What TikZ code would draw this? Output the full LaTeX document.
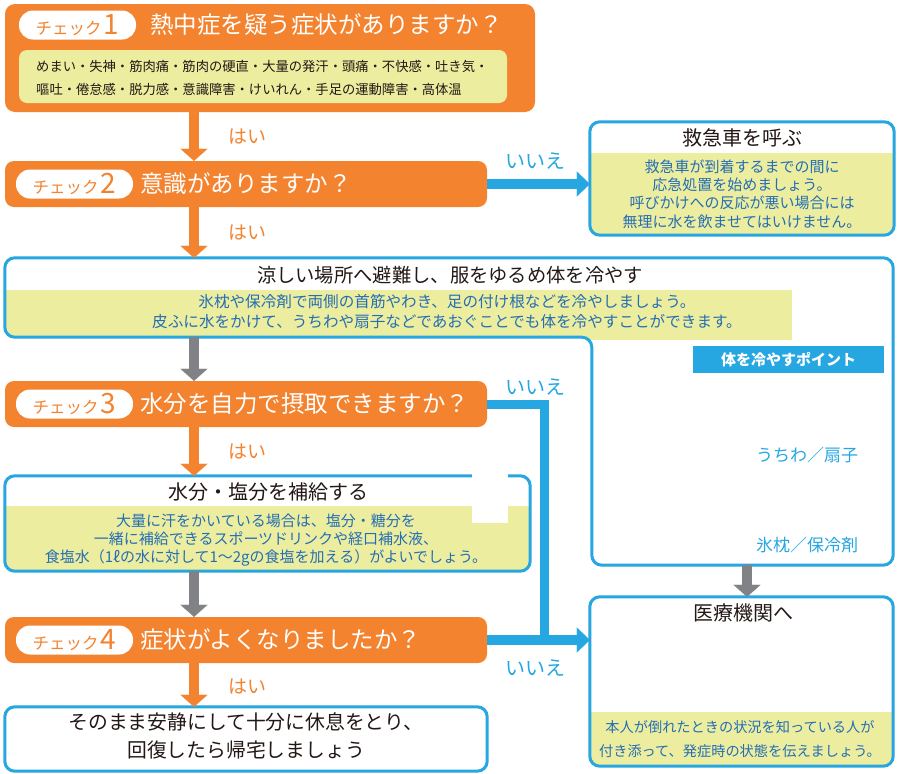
\documentclass[tikz,border=0pt]{standalone}
\usepackage{fontspec}
\setmainfont{Noto Sans CJK JP}
\usetikzlibrary{arrows.meta}
\definecolor{orangec}{RGB}{243,131,47}
\definecolor{bluec}{RGB}{38,167,225}
\definecolor{ycol}{RGB}{237,237,160}
\definecolor{grayc}{RGB}{128,130,133}
\definecolor{textblue}{RGB}{35,110,180}
\definecolor{blackc}{RGB}{35,24,21}
\newcommand\pilltext[1]{{\fontsize{16.5}{16}\selectfont チェック}\hspace{2pt}{\fontsize{28}{28}\selectfont #1}}
\tikzset{
  obox/.style={fill=orangec, rounded corners=9pt, inner sep=0pt, minimum width=482pt, minimum height=46pt},
  pill/.style={fill=white, rounded corners=14pt, minimum width=117pt, minimum height=29pt, inner sep=0pt, text=orangec},
  qtext/.style={anchor=west, text=white, font=\fontsize{23.5}{27}\selectfont, inner sep=0pt},
  area/.style={inner sep=0pt},
  bborder/.style={draw=bluec, line width=3pt, rounded corners=10pt},
  oarrow/.style={draw=orangec, line width=10pt, -{Triangle[width=27pt,length=12pt,line width=0.1pt]}},
  garrow/.style={draw=grayc, line width=10pt, -{Triangle[width=27pt,length=12pt,line width=0.1pt]}},
  barrow/.style={draw=bluec, line width=10pt, -{Triangle[width=25pt,length=13pt,line width=0.1pt]}},
  bline/.style={draw=bluec, line width=9pt},
  yeslbl/.style={anchor=west, text=orangec, font=\fontsize{19}{20}\selectfont, inner sep=0pt},
  nolbl/.style={text=bluec, font=\fontsize{20}{21}\selectfont, inner sep=0pt},
  headtext/.style={text=blackc, inner sep=0pt},
  bodytext/.style={text=textblue, align=center, inner sep=0pt},
  lbtext/.style={text=bluec, font=\fontsize{17}{20}\selectfont, inner sep=0pt},
}
\begin{document}
\begin{tikzpicture}[x=1pt,y=-1pt]
\fill[white] (0,0) rectangle (900,774);
\useasboundingbox (0,0) rectangle (900,774);

% ---------- Check 1 ----------
\node[obox, minimum width=530pt, minimum height=108pt, rounded corners=10pt] (c1) at (270,58) {};
\node[fill=ycol, rounded corners=8pt, minimum width=488pt, minimum height=53pt, inner sep=0pt] (c1in) at (263,76.5) {};
\node[anchor=west, align=left, text=blackc, font=\fontsize{13.3}{23}\selectfont, inner sep=0pt] (sym) at (36,77.5)
  {めまい・失神・筋肉痛・筋肉の硬直・大量の発汗・頭痛・不快感・吐き気・\\嘔吐・倦怠感・脱力感・意識障害・けいれん・手足の運動障害・高体温};
\node[pill] (p1) at (77.5,25) {\pilltext{1}};
\node[qtext] (q1) at (150,25) {熱中症を疑う症状がありますか？};

% ---------- Check 2 ----------
\node[obox] (c2) at (246,184) {};
\node[pill] (p2) at (74.5,184) {\pilltext{2}};
\node[qtext] (q2) at (140,184) {意識がありますか？};

% ---------- Check 3 ----------
\node[obox] (c3) at (246,404) {};
\node[pill] (p3) at (74.5,404) {\pilltext{3}};
\node[qtext] (q3) at (140,404) {水分を自力で摂取できますか？};

% ---------- Check 4 ----------
\node[obox] (c4) at (246,640) {};
\node[pill] (p4) at (74.5,640) {\pilltext{4}};
\node[qtext] (q4) at (140,640) {症状がよくなりましたか？};

% ---------- Ambulance box ----------
\node[area, minimum width=304pt, minimum height=113pt] (amb) at (742,178.5) {};
\begin{scope}
  \clip[rounded corners=10pt] (amb.south west) rectangle (amb.north east);
  \fill[ycol] (585,153) rectangle (900,240);
\end{scope}
\draw[bborder] (amb.south west) rectangle (amb.north east);
\node[headtext, font=\fontsize{20}{22}\selectfont] (ambt) at (742,138) {救急車を呼ぶ};
\node[bodytext, font=\fontsize{15}{18.2}\selectfont] (ambd) at (742,194)
  {救急車が到着するまでの間に\\応急処置を始めましょう。\\呼びかけへの反応が悪い場合には\\無理に水を飲ませてはいけません。};

% ---------- Cooling box (L shape) ----------
\node[area, minimum width=888pt, minimum height=79pt] (cool) at (449,297.5) {};
\node[area, minimum width=301pt, minimum height=228pt] (coolcol) at (742.5,451) {};
\begin{scope}
  \clip[rounded corners=10pt] (cool.north west) -- (cool.north east) -- (coolcol.south east) -- (coolcol.south west) -- (coolcol.west |- cool.south) -- (cool.south west) -- cycle;
  \fill[ycol] (0,290) rectangle (792,340);
\end{scope}
\draw[bborder] (cool.north west) -- (cool.north east) -- (coolcol.south east) -- (coolcol.south west) -- (coolcol.west |- cool.south) -- (cool.south west) -- cycle;
\node[headtext, font=\fontsize{19.3}{22}\selectfont] (coolt) at (450,275) {涼しい場所へ避難し、服をゆるめ体を冷やす};
\node[bodytext, font=\fontsize{15.6}{20}\selectfont] (coold) at (447,312)
  {氷枕や保冷剤で両側の首筋やわき、足の付け根などを冷やしましょう。\\皮ふに水をかけて、うちわや扇子などであおぐことでも体を冷やすことができます。};
\node[fill=bluec, text=white, font=\bfseries\fontsize{15}{15}\selectfont, minimum width=191pt, minimum height=27pt, inner sep=0pt] (bar) at (788.5,359.5) {体を冷やすポイント};
\node[lbtext] (fan) at (807,455) {うちわ／扇子};
\node[lbtext] (ice) at (807,545) {氷枕／保冷剤};

% ---------- Water box ----------
\node[area, minimum width=525pt, minimum height=95pt] (water) at (267.5,523.5) {};
\begin{scope}
  \clip[rounded corners=10pt] (water.south west) rectangle (water.north east);
  \fill[ycol] (0,506) rectangle (540,580);
\end{scope}
\draw[bborder] (water.south west) rectangle (water.north east);
\fill[white] (472,473) rectangle (508,523);
\node[headtext, font=\fontsize{20}{22}\selectfont] (watert) at (268,492) {水分・塩分を補給する};
\node[bodytext, font=\fontsize{15}{18}\selectfont] (waterd) at (266,540)
  {大量に汗をかいている場合は、塩分・糖分を\\一緒に補給できるスポーツドリンクや経口補水液、\\食塩水（1ℓの水に対して1～2gの食塩を加える）がよいでしょう。};

% ---------- Hospital box ----------
\node[area, minimum width=303pt, minimum height=169pt] (hosp) at (741.5,681.5) {};
\begin{scope}
  \clip[rounded corners=10pt] (hosp.south west) rectangle (hosp.north east);
  \fill[ycol] (585,712) rectangle (900,774);
\end{scope}
\draw[bborder] (hosp.south west) rectangle (hosp.north east);
\node[headtext, font=\fontsize{20}{22}\selectfont] (hospt) at (743,613) {医療機関へ};
\node[bodytext, font=\fontsize{14.2}{24}\selectfont] (hospd) at (740,739)
  {本人が倒れたときの状況を知っている人が\\付き添って、発症時の状態を伝えましょう。};

% ---------- Rest box ----------
\node[area, minimum width=482pt, minimum height=64pt] (rest) at (246,739) {};
\draw[bborder] (rest.south west) rectangle (rest.north east);
\node[headtext, align=center, font=\fontsize{19.8}{28}\selectfont] (restt) at (246,736)
  {そのまま安静にして十分に休息をとり、\\回復したら帰宅しましょう};

% ---------- Connectors ----------
\coordinate (ax) at (194,0);
\coordinate (gx) at (747,0);
\draw[oarrow] (c1.south -| ax) -- (c2.north -| ax);
\draw[oarrow] (c2.south -| ax) -- (cool.north -| ax);
\draw[garrow] (cool.south -| ax) -- (c3.north -| ax);
\draw[oarrow] (c3.south -| ax) -- (water.north -| ax);
\draw[garrow] (water.south -| ax) -- (c4.north -| ax);
\draw[oarrow] (c4.south -| ax) -- (rest.north -| ax);
\draw[garrow] (coolcol.south -| gx) -- (hosp.north -| gx);

\draw[barrow] (c2.east) -- (c2.east -| amb.west);
\coordinate (joint) at (544,640);
\draw[bline] (c3.east) -| (joint);
\draw[barrow] (c4.east) -- (c4.east -| hosp.west);

\node[yeslbl] (y1) at (228,137) {はい};
\node[yeslbl] (y2) at (228,233) {はい};
\node[yeslbl] (y3) at (228,452) {はい};
\node[yeslbl] (y4) at (228,687) {はい};
\node[nolbl] (n1) at (535,161) {いいえ};
\node[nolbl] (n2) at (535,387) {いいえ};
\node[nolbl] (n3) at (535,668) {いいえ};
\end{tikzpicture}
\end{document}
